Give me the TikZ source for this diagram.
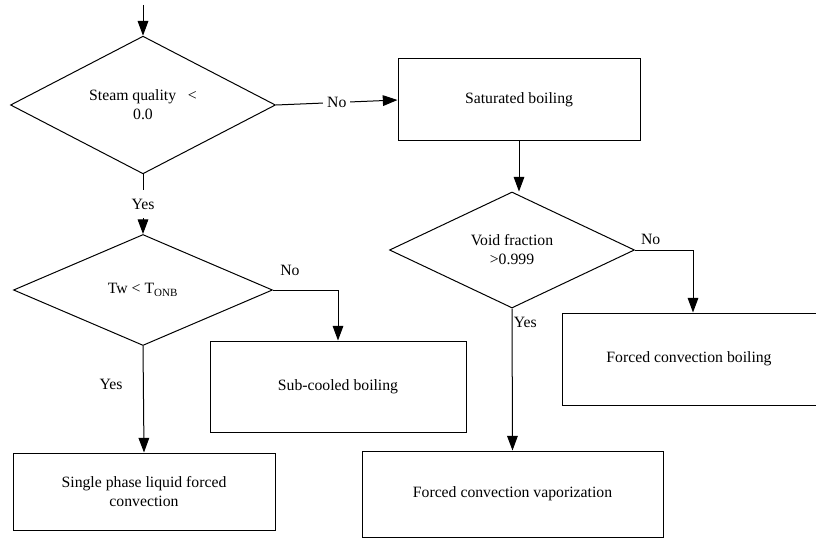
\documentclass[tikz,border=0pt]{standalone}
\usepackage{fontspec}
\setmainfont{Liberation Serif}
\usetikzlibrary{shapes.geometric,arrows.meta}
\newcommand{\pxsize}{0.75pt}

\begin{document}
\begin{tikzpicture}[x=\pxsize,y=-\pxsize,line width=0.75pt,
  font=\fontsize{11.8}{14.2}\selectfont]
\useasboundingbox (0,0) rectangle (816,538);
\tikzstyle{decision}=[draw,
			diamond,
			inner sep=0pt,
			align=center
			]
\tikzstyle{process}=[draw,
			rectangle,
			align=center
			]
\tikzstyle{flow}=[-{Triangle[length=11pt,width=8pt]}]

% decisions
\coordinate (start) at (143,5);
\node[decision, minimum width=265*\pxsize, minimum height=97*\pxsize] (steam) at (143,105) {Steam quality\ \ \ <\\0.0};
\node[decision, minimum width=259*\pxsize, minimum height=111*\pxsize] (tw) at (143,290) {Tw < T\textsubscript{ONB}};
\node[decision, minimum width=245*\pxsize, minimum height=116*\pxsize] (void) at (512,250) {Void fraction\\>0.999};

% regimes
\node[process, minimum width=242*\pxsize, minimum height=82*\pxsize] (sat) at (519,100) {Saturated boiling};
\node[process, minimum width=256*\pxsize, minimum height=91*\pxsize] (sub) at (338,386.5) {Sub-cooled boiling};
\node[process, minimum width=262*\pxsize, minimum height=77*\pxsize] (single) at (144,491.5) {Single phase liquid forced\\convection};
\node[process, minimum width=254*\pxsize, minimum height=92*\pxsize] (fcb) at (689,359) {Forced convection boiling};
\node[process, minimum width=301*\pxsize, minimum height=86*\pxsize] (fcv) at (512.5,494) {Forced convection vaporization};

% connectors
\draw[flow] (start) -- (steam.north);
\draw[flow] (steam.east) -- node[fill=white, inner xsep=3pt]{No} (sat.west);
\draw[flow] (steam.south) -- node[fill=white, inner ysep=6.5pt]{Yes} (tw.north);
\draw[flow] (tw.east) -| node[pos=0.13, above=7pt]{No} (sub.north);
\draw[flow] (tw.south) -- node[pos=0.36, left=12pt]{Yes} (single.north);
\draw[flow] (sat.south) -- (sat.south |- void.north);
\draw[flow] (void.east) -| node[pos=0.135, above]{No} ([xshift=3pt]fcb.north);
\draw[flow] (void.south) -- node[pos=0.1, right, inner sep=1pt]{Yes} (fcv.north);

\end{tikzpicture}
\end{document}
